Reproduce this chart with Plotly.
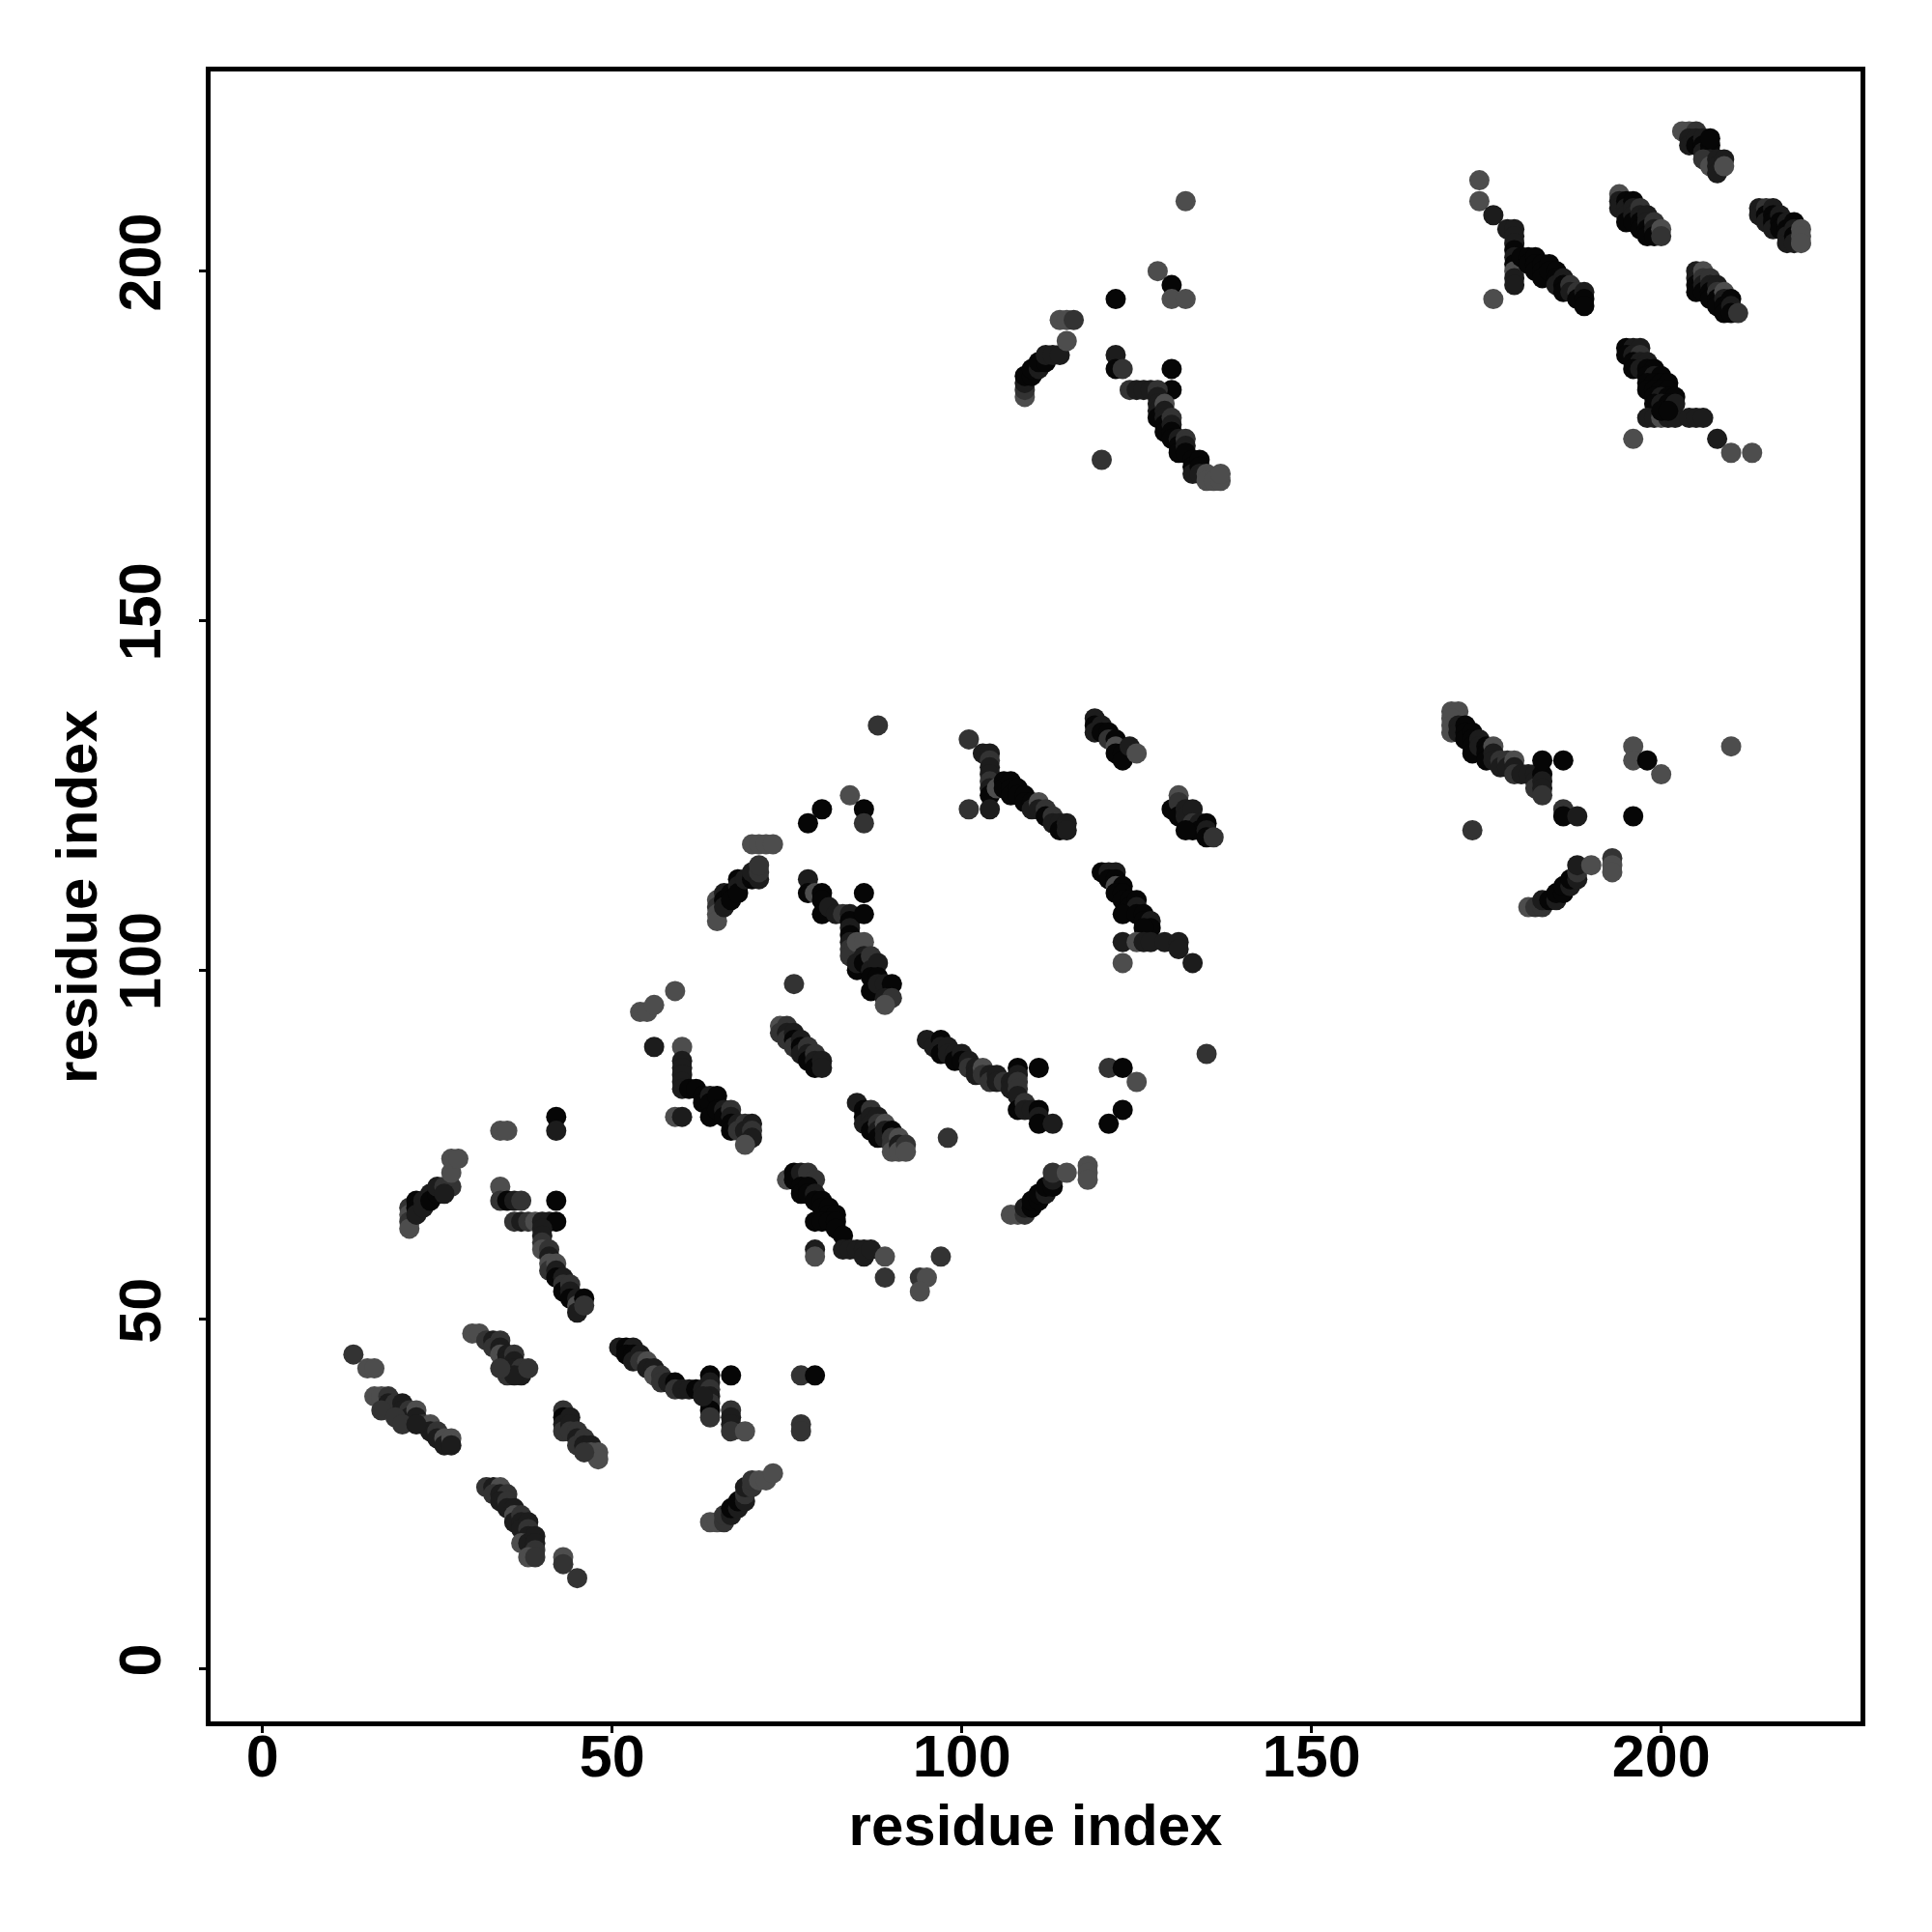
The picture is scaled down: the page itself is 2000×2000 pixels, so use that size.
import plotly.graph_objects as go

# Each contact: (residue i, residue j, shade level 0=darkest .. 3=lightest)
cluster_a = [(13,45,2),(15,43,3),(16,43,3),(16,39,3),(17,39,3),(18,39,2),(18,38,1),(19,38,2),(20,38,1),(20,37,1),
             (21,37,2),(21,36,1),(22,37,3),(22,36,1),(23,35,2),(24,35,3),(24,34,1),(25,34,2),(25,33,1),(26,33,3),
             (26,32,1),(27,33,3),(27,32,1),(17,37,2),(19,36,2),(20,35,2),(22,35,1)]
cluster_b = [(30,48,3),(31,48,3),(32,47,2),(33,47,1),(33,46,2),(34,47,2),(34,46,1),(34,45,3),(35,45,1),(35,44,1),
             (36,45,2),(36,44,1),(36,43,1),(37,43,2),(37,42,1),(35,42,2),(36,42,1),(38,43,2),(34,43,2)]
cluster_c = [(43,37,2),(43,36,0),(43,35,1),(43,34,2),(44,36,1),(44,35,1),(44,34,2),(45,34,2),(45,33,1),(45,32,2),
             (46,33,2),(46,32,1),(47,32,1),(47,31,3),(48,31,3),(48,30,3),(46,31,2)]
cluster_d = [(32,26,2),(33,26,1),(34,26,3),(33,25,2),(34,25,1),(35,25,2),(34,24,1),(35,24,2),(35,23,1),(36,23,1),
             (36,22,3),(36,21,1),(37,22,2),(37,21,1),(37,20,1),(38,21,1),(38,20,2),(38,19,1),(37,18,3),(38,18,1),
             (39,19,1),(39,18,1),(39,17,2),(38,16,3),(39,16,2),(43,16,3),(43,15,2),(45,13,2)]
cluster_e = [(21,66,2),(21,65,3),(21,64,2),(21,63,3),(22,67,0),(22,66,0),(22,65,1),(23,67,1),(23,66,1),(24,68,1),
             (24,67,0),(25,68,0),(25,69,1),(26,69,2),(27,69,2),(27,71,3),(27,73,3),(28,73,3),(26,68,1)]
cluster_f = [(34,77,3),(35,77,3),(42,79,0),(42,77,1),(34,69,3),(34,67,2),(35,67,0),(36,67,1),(37,67,2),(42,67,0),
             (36,64,2),(37,64,1),(38,64,2),(39,64,3),(40,64,1),(41,64,1),(42,64,0),(40,63,1),(40,62,1),(40,61,2),
             (40,60,3),(41,60,2),(41,59,1),(41,58,3),(41,57,2),(42,58,3),(42,57,1),(42,56,0),(43,56,1),(43,55,2),
             (43,54,0),(44,55,2),(44,54,1),(44,53,0),(45,53,1),(45,52,3),(45,51,1),(46,53,0),(46,52,2)]
cluster_g = [(51,46,1),(52,46,0),(53,46,1),(52,45,0),(53,45,0),(53,44,1),(54,45,1),(54,44,2),(55,44,3),(55,43,1),
             (56,43,1),(56,42,3),(57,42,2),(57,41,2),(58,41,1),(59,41,0),(59,40,2),(60,40,1),(61,40,1),(62,40,0),
             (63,40,1),(64,42,0),(64,41,1),(64,40,2),(64,39,1),(64,38,2),(64,37,0),(64,36,2),(63,39,1),(67,42,0),
             (67,37,2),(67,36,1),(67,35,1),(67,34,2),(69,34,3),(77,42,2),(79,42,0),(77,35,2),(77,34,2)]
cluster_h = [(64,21,3),(65,21,3),(66,21,2),(66,22,2),(67,22,1),(67,23,0),(68,23,1),(68,24,0),(69,24,1),(69,25,2),
             (69,26,1),(70,26,2),(70,27,2),(71,27,3),(72,27,3),(73,28,3)]
cluster_i = [(54,94,3),(55,94,3),(56,95,3),(59,97,3),(56,89,1),(60,89,3),(60,87,1),(60,86,1),(60,85,1),(60,84,1),
             (60,83,1),(61,83,0),(62,83,0),(63,82,0),(63,81,0),(64,82,1),(64,81,0),(65,82,0),(64,79,0),(65,80,0),
             (66,80,1),(66,79,0),(67,80,2),(67,79,1),(67,78,0),(67,77,0),(68,78,1),(68,77,2),(69,78,2),(69,77,1),
             (70,78,1),(70,77,2),(70,76,1),(69,75,3),(59,79,3),(60,79,1)]
cluster_j = [(74,92,3),(74,91,2),(75,92,2),(75,91,1),(75,90,2),(76,91,1),(76,90,0),(76,89,2),(77,90,1),(77,89,0),
             (77,88,1),(78,89,2),(78,88,1),(78,87,0),(79,88,2),(79,87,1),(79,86,0),(80,87,1),(80,86,1)]
cluster_k = [(85,81,1),(86,80,0),(86,79,0),(86,78,1),(87,80,2),(87,79,1),(87,78,1),(87,77,0),(88,79,1),(88,78,2),
             (88,77,1),(88,76,0),(89,78,3),(89,77,1),(89,76,1),(90,77,0),(90,76,2),(90,75,2),(90,74,3),(91,76,3),
             (91,75,1),(91,74,3),(92,75,2),(92,74,3)]
cluster_l = [(75,70,3),(76,71,0),(76,70,0),(77,71,1),(78,71,2),(79,70,2),(77,69,0),(77,68,0),(78,69,0),(78,68,0),
             (79,68,1),(79,67,0),(80,67,0),(80,66,0),(81,66,0),(81,65,0),(82,65,0),(79,64,0),(80,64,0),(81,64,0),
             (82,64,0),(82,63,0),(83,62,0),(83,60,1),(84,60,1),(85,60,1),(86,60,1),(86,59,1),(87,60,1),(89,59,3),
             (79,60,1),(79,59,3),(89,56,2),(94,56,2),(95,56,3),(94,54,3),(97,59,2)]
cluster_m = [(65,110,3),(65,109,2),(65,108,3),(65,107,3),(66,111,1),(66,110,0),(66,109,1),(67,111,0),(67,110,0),
             (68,113,0),(68,112,1),(68,111,0),(69,113,1),(70,113,0),(70,114,1),(71,113,1),(71,114,2),(71,115,2),
             (70,118,3),(71,118,3),(72,118,3),(73,118,3)]
cluster_n = [(78,113,1),(78,111,0),(79,111,3),(80,111,0),(80,110,0),(80,108,0),(81,109,1),(82,108,1),(83,108,2),
             (84,108,1),(84,107,0),(84,106,1),(84,105,0),(84,104,1),(84,103,2),(84,102,2),(85,104,3),(86,111,0),
             (86,108,0),(86,104,3),(85,100,0),(85,101,1),(86,102,1),(86,101,0),(87,102,2),(87,100,1),(88,101,1),
             (87,99,0),(88,99,0),(87,97,0),(88,98,1),(89,98,1),(90,98,0),(89,96,1),(90,96,2),(89,95,3),(80,123,0),
             (78,121,0),(84,125,3),(86,123,0),(86,121,2),(88,135,2),(76,98,2)]
cluster_o = [(101,133,2),(103,131,1),(104,131,1),(104,130,2),(104,129,1),(104,128,1),(104,127,2),(104,126,1),
             (104,125,0),(105,126,3),(106,127,0),(106,126,0),(107,127,0),(107,126,0),(107,125,0),(108,126,0),
             (108,125,0),(109,125,0),(109,124,0),(110,124,0),(110,123,1),(111,124,3),(111,123,1),(112,123,2),
             (112,122,0),(113,122,2),(113,121,1),(114,121,1),(114,120,0),(115,121,1),(115,120,1),(101,123,2),
             (104,123,1)]
cluster_p = [(119,136,1),(119,135,0),(119,134,1),(120,135,1),(120,134,0),(121,134,0),(121,133,2),(122,133,0),
             (122,132,3),(122,131,0),(123,131,0),(123,130,0),(124,132,1),(125,131,3)]
cluster_q = [(131,125,3),(130,123,0),(131,124,2),(131,122,0),(132,123,1),(132,122,1),(133,123,1),(133,121,2),
             (133,120,0),(134,121,1),(134,120,0),(135,121,0),(135,120,1),(135,119,0),(136,119,2),(132,120,0)]
cluster_r = [(120,114,0),(121,114,1),(122,114,1),(121,113,0),(122,113,0),(122,112,3),(123,112,0),(122,111,0),
             (123,111,0),(123,110,0),(124,110,0),(124,109,0),(125,110,0),(125,109,1),(123,108,0),(125,108,0),
             (126,108,0),(126,107,0),(127,107,1),(127,106,0),(126,106,0),(123,104,1),(125,104,3),(126,104,1),
             (127,104,1),(129,104,1),(131,104,1),(131,103,1),(123,101,3),(133,101,1)]
cluster_s = [(95,90,1),(96,89,1),(97,90,0),(97,89,1),(97,88,0),(98,89,1),(98,88,1),(99,88,1),(99,87,0),(100,88,1),
             (100,87,0),(101,87,1),(101,86,2),(102,86,1),(102,85,1),(103,86,3),(103,85,2),(104,85,1),(104,84,2),
             (105,85,1),(105,84,1),(106,84,2),(107,84,1),(107,83,1),(108,86,0),(108,85,1),(108,84,2),(108,83,2),
             (108,82,1),(108,80,0),(109,81,2),(109,80,1),(110,80,1),(111,80,0),(111,79,1),(111,78,0),(113,78,1),
             (111,86,0),(121,86,2),(123,86,0),(125,84,3),(123,80,0),(121,78,0),(135,88,2),(98,76,2)]
cluster_t = [(107,65,3),(108,65,3),(109,65,2),(109,66,1),(110,66,0),(110,67,0),(111,67,0),(111,68,0),(112,68,1),
             (112,69,0),(113,69,0),(113,70,1),(113,71,2),(115,71,3),(118,72,3),(118,71,3),(118,70,3)]
cluster_u = [(109,182,3),(109,183,2),(109,184,1),(109,185,0),(110,185,0),(110,186,0),(111,186,1),(111,187,0),
             (112,187,0),(112,188,1),(113,188,1),(114,188,1),(115,190,3),(114,193,3),(115,193,3),(116,193,2),
             (122,196,0),(128,200,3),(130,198,0),(130,196,3),(132,196,3),(132,210,3),(122,188,1),(122,186,0),
             (123,186,2),(130,186,0),(130,183,0),(120,173,2)]
cluster_v = [(124,183,2),(125,183,1),(126,183,1),(127,183,1),(128,183,2),(128,182,1),(128,181,1),(128,180,1),
             (128,179,0),(129,181,3),(129,180,1),(129,179,1),(129,178,0),(129,177,0),(130,179,2),(130,178,1),
             (130,177,0),(130,176,0),(131,176,1),(131,175,0),(131,174,0),(132,176,2),(132,175,1),(132,174,0),
             (133,173,0),(133,172,0),(133,171,1),(134,173,0),(134,172,0),(134,171,1),(135,171,3),(135,170,3),
             (136,170,3),(137,170,3),(137,171,3)]
cluster_w = [(170,137,3),(171,137,3),(170,136,3),(170,135,3),(170,134,3),(171,135,1),(171,134,1),(172,135,0),
             (172,134,0),(172,133,0),(173,134,0),(173,133,0),(173,132,0),(173,131,0),(174,133,1),(174,132,1),
             (175,132,0),(175,131,0),(175,130,0),(176,132,3),(176,131,1),(176,130,1),(177,130,2),(177,129,1),
             (178,130,2),(178,129,1),(179,130,3),(179,129,1),(179,128,2),(180,128,1),(181,128,1),(182,128,1),
             (182,127,1),(182,126,2),(183,128,0),(183,127,1),(183,126,1),(183,125,2),(183,130,0),(186,130,0),
             (196,132,3),(196,130,3),(198,130,0),(200,128,3),(210,132,3),(173,120,2),(186,123,2),(186,122,0),
             (188,122,1),(196,122,0)]
cluster_x = [(181,109,3),(182,109,2),(183,109,2),(183,110,1),(184,110,0),(185,110,1),(185,111,0),(186,111,0),
             (186,112,0),(187,112,1),(187,113,0),(188,113,1),(188,114,2),(188,115,1),(190,115,3),(193,116,2),
             (193,115,3),(193,114,3)]
cluster_y = [(174,213,3),(174,210,3),(176,208,1),(178,206,1),(179,206,1),(179,205,1),(179,204,1),(179,203,0),
             (179,202,1),(179,201,0),(179,200,3),(179,199,1),(179,198,1),(180,202,0),(181,202,0),(181,201,0),
             (182,202,0),(182,201,0),(182,200,0),(183,201,0),(183,200,0),(183,199,0),(184,201,0),(184,200,0),
             (185,200,0),(185,199,0),(185,198,1),(186,199,1),(186,198,0),(186,197,0),(187,198,2),(187,197,1),
             (188,197,2),(188,196,0),(189,197,1),(189,196,0),(189,195,0),(176,196,3)]
cluster_z1 = [(203,220,3),(204,220,3),(205,220,2),(204,219,1),(204,218,1),(205,219,1),(205,218,0),(206,219,1),
              (206,218,0),(206,217,1),(207,218,0),(207,217,0),(207,216,1),(206,216,2),(207,215,3),(208,216,1),
              (208,215,1),(208,214,1),(209,216,1),(209,215,3),(207,219,0)]
cluster_z2 = [(194,211,3),(194,210,1),(194,209,1),(195,210,0),(195,209,1),(195,208,1),(195,207,0),(196,210,0),
              (196,209,1),(196,208,1),(196,207,0),(197,209,2),(197,208,1),(197,207,0),(197,206,0),(198,208,1),
              (198,207,1),(198,206,0),(198,205,0),(199,207,2),(199,206,1),(199,205,0),(200,206,3),(200,205,2)]
cluster_z3 = [(214,209,1),(214,208,1),(215,209,2),(215,208,0),(215,207,1),(216,209,1),(216,208,0),(216,207,0),
              (216,206,1),(217,208,1),(217,207,0),(217,206,0),(218,207,1),(218,206,0),(218,205,1),(218,204,1),
              (219,207,0),(219,206,1),(219,205,0),(219,204,1),(220,206,3),(220,205,3),(220,204,3)]
cluster_z4 = [(205,200,1),(205,199,1),(205,198,0),(205,197,0),(206,200,3),(206,199,2),(206,198,1),(206,197,0),
              (207,199,2),(207,198,1),(207,197,0),(207,196,0),(208,198,1),(208,197,2),(208,196,0),(208,195,0),
              (209,197,3),(209,196,1),(209,195,0),(209,194,0),(210,196,0),(210,195,1),(210,194,0),(211,194,2)]
cluster_z5 = [(195,189,0),(196,189,1),(197,189,1),(195,188,0),(196,188,1),(197,188,2),(196,187,0),(197,187,1),
              (198,187,1),(196,186,0),(197,186,1),(198,186,0),(199,186,0),(198,185,0),(199,185,1),(200,185,0),
              (198,184,0),(199,184,0),(200,184,0),(201,184,0),(198,183,0),(199,183,0),(200,183,0),(201,183,0),
              (199,182,0),(200,182,1),(201,182,0),(202,182,0),(199,181,0),(200,181,1),(201,181,0),(202,181,1),
              (198,179,1),(199,179,1),(200,179,3),(201,179,1),(202,179,1),(204,179,1),(205,179,1),(206,179,1),
              (208,176,1),(210,174,3),(213,174,3),(196,176,3),(200,180,0),(201,180,0)]

shade_colors = ["#060606", "#1c1c1c", "#333333", "#4d4d4d"]
tick_values = [0, 50, 100, 150, 200]
axis_label = "residue index"

clusters = [cluster_a, cluster_b, cluster_c, cluster_d, cluster_e, cluster_f, cluster_g, cluster_h, cluster_i,
            cluster_j, cluster_k, cluster_l, cluster_m, cluster_n, cluster_o, cluster_p, cluster_q, cluster_r,
            cluster_s, cluster_t, cluster_u, cluster_v, cluster_w, cluster_x, cluster_y, cluster_z1, cluster_z2,
            cluster_z3, cluster_z4, cluster_z5]

xs, ys, cs = [], [], []
for cl in clusters:
    for (i, j, s) in cl:
        xs.append(i)
        ys.append(j)
        cs.append(shade_colors[s])

fig = go.Figure()
fig.add_trace(go.Scatter(x=xs, y=ys, mode="markers",
                         marker=dict(size=21, color=cs, line=dict(width=0)),
                         hoverinfo="x+y", showlegend=False))

font_family = "Liberation Sans, Arial, sans-serif"
axis_common = dict(showgrid=False, zeroline=False, showline=True, linecolor="black", linewidth=5,
                   mirror=True, ticks="outside", ticklen=7, tickwidth=3, tickcolor="black",
                   tickvals=tick_values, ticktext=[str(v) for v in tick_values],
                   tickfont=dict(family=font_family, size=61, color="black", weight="bold"))

fig.update_layout(
    width=2000, height=2000,
    margin=dict(l=210, r=82, t=66, b=226),
    paper_bgcolor="white", plot_bgcolor="white",
    xaxis=dict(range=[-7.42, 228.5], title=dict(text=axis_label, standoff=18,
               font=dict(family=font_family, size=60, color="black", weight="bold")),
               ticklabelstandoff=-28, **axis_common),
    yaxis=dict(range=[-7.5, 228.56], tickangle=-90, ticklabelstandoff=16, **axis_common),
)

fig.add_annotation(text=axis_label, xref="paper", yref="paper", x=-0.0814, y=0.5,
                   xanchor="center", yanchor="middle", textangle=-90, showarrow=False,
                   font=dict(family=font_family, size=60, color="black", weight="bold"))

fig.write_html("out.html")
